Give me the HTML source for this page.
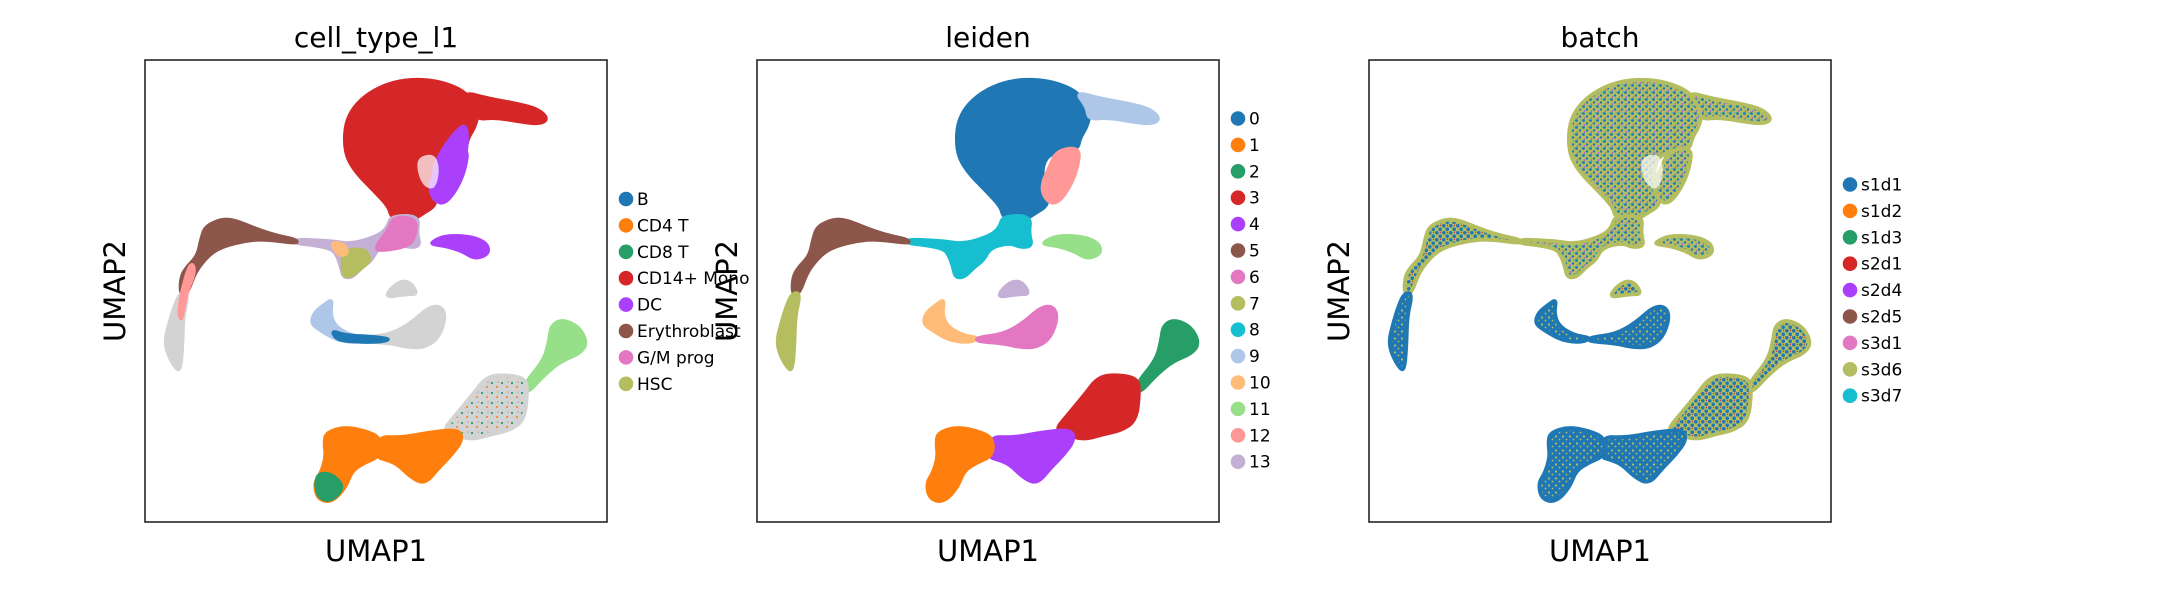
<!DOCTYPE html>
<html><head><meta charset="utf-8"><style>
html,body{margin:0;padding:0;background:#fff;}
svg{display:block;font-family:"DejaVu Sans","Liberation Sans",sans-serif;}
</style></head><body>
<svg id="fig" width="2173" height="600" viewBox="0 0 2173 600" xmlns="http://www.w3.org/2000/svg">
<defs>
<pattern id="patOlive" width="7" height="7" patternUnits="userSpaceOnUse">
<rect width="7" height="7" fill="#b5bd61"/>
<circle cx="1.5" cy="1.5" r="1.4" fill="#1f77b4"/><circle cx="5" cy="4.5" r="1.2" fill="#1f77b4"/>
<circle cx="2.5" cy="6" r="0.8" fill="#aa40fc"/><circle cx="6" cy="1" r="0.7" fill="#17becf"/>
</pattern>
<pattern id="patBlue" width="7" height="7" patternUnits="userSpaceOnUse">
<rect width="7" height="7" fill="#1f77b4"/>
<circle cx="2" cy="2.5" r="1.1" fill="#b5bd61"/><circle cx="5.5" cy="5.5" r="0.9" fill="#b5bd61"/>
</pattern>
<pattern id="patMix" width="7" height="7" patternUnits="userSpaceOnUse">
<rect width="7" height="7" fill="#b5bd61"/>
<circle cx="1.8" cy="1.8" r="1.8" fill="#1f77b4"/><circle cx="5.2" cy="5.2" r="1.8" fill="#1f77b4"/>
<circle cx="5.5" cy="1.3" r="0.7" fill="#d62728"/>
</pattern>
<pattern id="patGrey" width="10" height="10" patternUnits="userSpaceOnUse">
<rect width="10" height="10" fill="#d3d3d3"/>
<circle cx="2" cy="3" r="1.1" fill="#279e68"/><circle cx="7" cy="7" r="1" fill="#ff7f0e"/><circle cx="8" cy="2" r="0.8" fill="#c49c94"/>
</pattern>
</defs>
</svg>
<script>
// ---------- data ----------
const panelTitles = ["cell_type_l1", "leiden", "batch"];
const cellTypeLabels = ["B","CD4 T","CD8 T","CD14+ Mono","DC","Erythroblast","G/M prog","HSC"];
const leidenLabels = ["0","1","2","3","4","5","6","7","8","9","10","11","12","13"];
const batchLabels = ["s1d1","s1d2","s1d3","s2d1","s2d4","s2d5","s3d1","s3d6","s3d7"];
const palette = ["#1f77b4","#ff7f0e","#279e68","#d62728","#aa40fc","#8c564b","#e377c2","#b5bd61","#17becf","#aec7e8","#ffbb78","#98df8a","#ff9896","#c5b0d5"];

// cluster outlines in embedding units (UMAP1 0..1386 left->right, UMAP2 0..1386 top->bottom)
const shape0 = [[598,240],[605,180],[635,130],[690,88],[760,62],[840,58],[910,72],[965,100],[1000,150],[992,195],[968,235],[962,268],[900,272],[858,300],[855,380],[878,432],[830,462],[800,482],[740,475],[732,440],[690,395],[640,345],[606,295]];
const shape9 = [[955,96],[1030,116],[1120,132],[1180,148],[1210,178],[1180,192],[1120,184],[1050,172],[995,178],[990,140]];
const shape12 = [[900,272],[968,262],[962,320],[938,382],[900,432],[868,422],[852,380],[878,320]];
const shape8 = [[738,468],[822,468],[815,520],[826,558],[790,562],[760,548],[700,562],[680,600],[650,622],[622,652],[595,652],[588,620],[578,590],[562,566],[500,554],[452,550],[452,538],[560,543],[620,553],[700,528],[728,503]];
const shape5 = [[455,550],[360,537],[300,542],[240,557],[200,577],[168,612],[148,642],[126,702],[106,702],[108,650],[128,618],[158,588],[170,530],[183,498],[230,478],[265,480],[300,493],[350,513],[400,528],[455,540]];
const shape7 = [[106,700],[130,700],[114,770],[112,860],[106,928],[94,928],[68,882],[60,840],[73,790],[88,740]];
const shape11 = [[862,545],[900,528],[960,528],[1002,538],[1028,555],[1030,582],[990,597],[950,572],[900,557],[862,553]];
const shape13 = [[723,710],[740,683],[770,663],[797,668],[817,702],[790,702],[755,707]];
const shape10 = [[562,718],[555,760],[570,800],[620,828],[665,833],[640,847],[580,842],[528,812],[498,790],[508,758],[540,733]];
const shape6 = [[660,833],[740,823],[800,788],[850,743],[887,738],[902,770],[882,832],[840,862],[790,862],[740,850],[660,844]];
const shape2 = [[1138,972],[1198,900],[1213,840],[1218,798],[1250,778],[1302,800],[1327,850],[1302,882],[1250,902],[1200,942],[1145,1002]];
const shape3 = [[898,1107],[928,1070],[988,998],[1018,958],[1060,943],[1142,953],[1147,1000],[1137,1082],[1090,1112],[1040,1122],[990,1137],[950,1132],[918,1112]];
const shape4 = [[698,1130],[770,1133],[850,1118],[942,1108],[952,1140],[922,1182],[882,1222],[840,1272],[798,1252],[758,1212],[718,1197],[698,1192]];
const shape1 = [[543,1118],[600,1101],[660,1113],[707,1133],[707,1187],[660,1207],[620,1232],[602,1282],[560,1327],[518,1317],[508,1270],[528,1240],[543,1190],[538,1150]];
const clusterShapes = [shape0,shape1,shape2,shape3,shape4,shape5,shape6,shape7,shape8,shape9,shape10,shape11,shape12,shape13];
const drawOrder = [0,9,12,8,5,7,11,13,10,6,2,3,4,1];

// cell-type panel: fill per leiden cluster + overlays
const cellTypeFill = ["#d62728","#ff7f0e","#98df8a","url(#patGrey)","#ff7f0e","#8c564b","#d3d3d3","#d3d3d3","#c5b0d5","#d62728","#aec7e8","#aa40fc","#aa40fc","#d3d3d3"];
const overlayDC = [[880,280],[960,180],[970,240],[955,330],[930,390],[900,430],[870,420],[860,360]];
const overlayGM = [[745,470],[815,475],[812,530],[790,560],[700,575],[690,560],[730,510]];
const overlayHSC = [[595,570],[660,565],[680,600],[650,625],[620,650],[595,650],[590,610]];
const overlayPeach = [[560,546],[600,552],[610,580],[585,590],[565,565]];
const overlayEryPink = [[150,640],[125,700],[112,770],[108,780],[100,760],[108,700],[130,620],[145,610]];
const overlayB = [[560,810],[600,825],[700,830],[740,838],[700,848],[600,845],[570,835]];
const overlayCD8 = [[520,1240],[560,1240],[600,1280],[560,1325],[520,1315],[510,1270]];
const cellTypeOverlays = [overlayDC, overlayGM, overlayHSC, overlayPeach, overlayEryPink, overlayB, overlayCD8];
const cellTypeOverlayColors = ["#aa40fc","#e377c2","#b5bd61","#ffbb78","#ff9896","#1f77b4","#279e68"];
// sparse gap inside the monocyte blob
const headGap = [[820,290],[870,280],[885,330],[870,390],[835,380],[815,330]];

// batch panel
const batchFill = ["url(#patOlive)","url(#patBlue)","url(#patMix)","url(#patMix)","url(#patBlue)","url(#patMix)","url(#patBlue)","url(#patBlue)","url(#patOlive)","url(#patOlive)","url(#patBlue)","url(#patOlive)","url(#patOlive)","url(#patMix)"];

// ---------- layout ----------
const panels = [{x0:145},{x0:757},{x0:1369}];
const boxTop = 60, boxSize = 462, domainMax = 1386;
const NS = "http://www.w3.org/2000/svg";
const svg = document.getElementById('fig');
function mk(tag, attrs, parent){const e=document.createElementNS(NS,tag);for(const k in attrs)e.setAttribute(k,attrs[k]);(parent||svg).appendChild(e);return e;}
function xScale(p, v){return panels[p].x0 + v/domainMax*boxSize;}
function yScale(v){return boxTop + v/domainMax*boxSize;}
function pathFor(p, pts){
  const P = pts.map(q=>[xScale(p,q[0]), yScale(q[1])]);
  const n = P.length;
  const mid = i => { const a=P[i%n], b=P[(i+1)%n]; return [(a[0]+b[0])/2,(a[1]+b[1])/2]; };
  let m0 = mid(n-1);
  let d = 'M'+m0[0].toFixed(1)+' '+m0[1].toFixed(1);
  for(let i=0;i<n;i++){ const m = mid(i); d += ' Q'+P[i][0].toFixed(1)+' '+P[i][1].toFixed(1)+' '+m[0].toFixed(1)+' '+m[1].toFixed(1); }
  return d+'Z';
}

const fills = [cellTypeFill, palette, batchFill];
const panelNames = ["cell-type","leiden","batch"];
panels.forEach((pn, p)=>{
  const g = mk('g',{});
  
  
  drawOrder.forEach(ci=>{
    const f = fills[p][ci];
    let stroke = f;
    if(f.startsWith('url')) stroke = (p===0) ? '#d3d3d3' : (batchFill[ci]==='url(#patBlue)'?'#1f77b4':'#b5bd61');
    const el = mk('path',{d:pathFor(p,clusterShapes[ci]),fill:f,stroke:stroke,'stroke-width':4,'stroke-linejoin':'round'},g);
    
    
  });
  if(p===0){
    cellTypeOverlays.forEach((ov,i)=>{
      const el = mk('path',{d:pathFor(p,ov),fill:cellTypeOverlayColors[i],stroke:cellTypeOverlayColors[i],'stroke-width':3,'stroke-linejoin':'round'},g);
      
      
    });
  }
  if(p!==1){
    const gap = mk('path',{d:pathFor(p,headGap),fill:'#ffffff','fill-opacity':0.7},g);
    
    
  }
  const box = mk('rect',{x:pn.x0,y:boxTop,width:boxSize,height:boxSize,fill:'none',stroke:'#262626','stroke-width':1.6});
  
  
  const t = mk('text',{x:pn.x0+boxSize/2,y:47,'text-anchor':'middle','font-size':28,fill:'#000'});
  t.textContent = panelTitles[p];
  
  
  const xl = mk('text',{x:pn.x0+boxSize/2,y:561,'text-anchor':'middle','font-size':29,fill:'#000'});
  xl.textContent = 'UMAP1';
  
  
  const yx = pn.x0-20, yy = boxTop+boxSize/2;
  const yl = mk('text',{x:yx,y:yy,'text-anchor':'middle','font-size':29,fill:'#000',transform:'rotate(-90 '+yx+' '+yy+')'});
  yl.textContent = 'UMAP2';
  
  
});

// legends
const legendSpecs = [
  {labels:cellTypeLabels, x:626, y0:199},
  {labels:leidenLabels, x:1238, y0:118.5},
  {labels:batchLabels, x:1850, y0:184.5}
];
const legendStep = 26.4;
legendSpecs.forEach((ls, p)=>{
  const g = mk('g',{});
  
  
  ls.labels.forEach((lab,i)=>{
    const y = ls.y0 + i*legendStep;
    const c = mk('circle',{cx:ls.x,cy:y,r:7.3,fill:palette[i]},g);
    
    
    const t = mk('text',{x:ls.x+11,y:y+6,'font-size':17,fill:'#000'},g);
    t.textContent = lab;
    
    
  });
});
</script>
</body></html>
